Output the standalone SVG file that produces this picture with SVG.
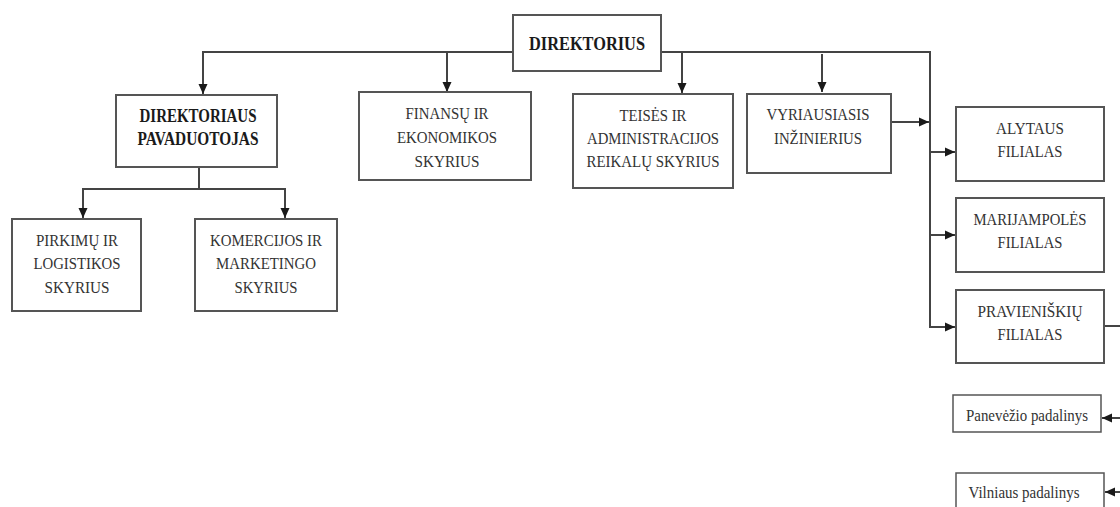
<svg xmlns="http://www.w3.org/2000/svg" width="1120" height="507" viewBox="0 0 1120 507">
<defs>
<marker id="ah" markerWidth="11" markerHeight="11" refX="10" refY="5" orient="auto" markerUnits="userSpaceOnUse">
<path d="M0,0.5 L10,5 L0,9.5 Z" fill="#1a1a1a"/>
</marker>
<style>
.box{fill:#fff;stroke:#555;stroke-width:2}
.ln{fill:none;stroke:#444;stroke-width:2}
.t{font-family:"Liberation Serif","Times New Roman",serif;font-size:17px;fill:#333;text-anchor:middle}
.b{font-weight:bold;fill:#1a1a1a;font-size:19px}
.s{font-size:17px}
</style>
</defs>
<rect width="1120" height="507" fill="#fff"/>
<g id="connectors">
<path class="ln" d="M513,52 H203 V94" marker-end="url(#ah)"/>
<path class="ln" d="M447,52 V92" marker-end="url(#ah)"/>
<path class="ln" d="M661,52 H930 V327 H955" marker-end="url(#ah)"/>
<path class="ln" d="M682,52 V93" marker-end="url(#ah)"/>
<path class="ln" d="M822,54 V92" marker-end="url(#ah)"/>
<path class="ln" d="M891,122 H929" marker-end="url(#ah)"/>
<path class="ln" d="M930,152 H955" marker-end="url(#ah)"/>
<path class="ln" d="M930,235 H955" marker-end="url(#ah)"/>
<path class="ln" d="M199,167 V189"/>
<path class="ln" d="M285,218 V189 H83 V218" marker-end="url(#ah)"/>
<path class="ln" d="M285,189 V218" marker-end="url(#ah)"/>
<path class="ln" d="M1104,326 H1120"/>
<path class="ln" d="M1120,418 H1102" marker-end="url(#ah)"/>
<path class="ln" d="M1120,492 H1105" marker-end="url(#ah)"/>
</g>
<g id="direktorius">
<rect class="box" x="513" y="15" width="148" height="56"/>
<text class="t b" x="587" y="50" textLength="116" lengthAdjust="spacingAndGlyphs">DIREKTORIUS</text>
</g>
<g id="pavaduotojas">
<rect class="box" x="116" y="95" width="161" height="72"/>
<text class="t b" x="198" y="122" textLength="117" lengthAdjust="spacingAndGlyphs">DIREKTORIAUS</text>
<text class="t b" x="198" y="145" textLength="121" lengthAdjust="spacingAndGlyphs">PAVADUOTOJAS</text>
</g>
<g id="finansu">
<rect class="box" x="359" y="92" width="172" height="88"/>
<text class="t" x="447" y="119" textLength="83" lengthAdjust="spacingAndGlyphs">FINANSŲ IR</text>
<text class="t" x="447" y="143" textLength="100" lengthAdjust="spacingAndGlyphs">EKONOMIKOS</text>
<text class="t" x="447" y="167" textLength="65" lengthAdjust="spacingAndGlyphs">SKYRIUS</text>
</g>
<g id="teises">
<rect class="box" x="573" y="94" width="160" height="94"/>
<text class="t" x="653" y="121" textLength="67" lengthAdjust="spacingAndGlyphs">TEISĖS IR</text>
<text class="t" x="653" y="144" textLength="132" lengthAdjust="spacingAndGlyphs">ADMINISTRACIJOS</text>
<text class="t" x="653" y="167" textLength="133" lengthAdjust="spacingAndGlyphs">REIKALŲ SKYRIUS</text>
</g>
<g id="inzinierius">
<rect class="box" x="747" y="94" width="144" height="79"/>
<text class="t" x="818" y="120" textLength="103" lengthAdjust="spacingAndGlyphs">VYRIAUSIASIS</text>
<text class="t" x="818" y="144" textLength="88" lengthAdjust="spacingAndGlyphs">INŽINIERIUS</text>
</g>
<g id="alytaus">
<rect class="box" x="956" y="107" width="148" height="74"/>
<text class="t" x="1030" y="134" textLength="68" lengthAdjust="spacingAndGlyphs">ALYTAUS</text>
<text class="t" x="1030" y="157" textLength="65" lengthAdjust="spacingAndGlyphs">FILIALAS</text>
</g>
<g id="marijampoles">
<rect class="box" x="956" y="198" width="148" height="74"/>
<text class="t" x="1030" y="225" textLength="113" lengthAdjust="spacingAndGlyphs">MARIJAMPOLĖS</text>
<text class="t" x="1030" y="248" textLength="65" lengthAdjust="spacingAndGlyphs">FILIALAS</text>
</g>
<g id="pravieniskiu">
<rect class="box" x="956" y="290" width="148" height="73"/>
<text class="t" x="1030" y="317" textLength="105" lengthAdjust="spacingAndGlyphs">PRAVIENIŠKIŲ</text>
<text class="t" x="1030" y="340" textLength="65" lengthAdjust="spacingAndGlyphs">FILIALAS</text>
</g>
<g id="pirkimu">
<rect class="box" x="12" y="219" width="129" height="92"/>
<text class="t" x="77" y="246" textLength="82" lengthAdjust="spacingAndGlyphs">PIRKIMŲ IR</text>
<text class="t" x="77" y="269" textLength="87" lengthAdjust="spacingAndGlyphs">LOGISTIKOS</text>
<text class="t" x="77" y="293" textLength="65" lengthAdjust="spacingAndGlyphs">SKYRIUS</text>
</g>
<g id="komercijos">
<rect class="box" x="195" y="219" width="142" height="92"/>
<text class="t" x="266" y="246" textLength="112" lengthAdjust="spacingAndGlyphs">KOMERCIJOS IR</text>
<text class="t" x="266" y="269" textLength="100" lengthAdjust="spacingAndGlyphs">MARKETINGO</text>
<text class="t" x="266" y="293" textLength="63" lengthAdjust="spacingAndGlyphs">SKYRIUS</text>
</g>
<g id="panevezio">
<rect class="box" x="953" y="395" width="148" height="37" style="stroke-width:1.5"/>
<text class="t s" x="1027" y="421" textLength="122" lengthAdjust="spacingAndGlyphs">Panevėžio padalinys</text>
</g>
<g id="vilniaus">
<rect class="box" x="956" y="473" width="148" height="40" style="stroke-width:1.5"/>
<text class="t s" x="1024" y="498" textLength="111" lengthAdjust="spacingAndGlyphs">Vilniaus padalinys</text>
</g>
</svg>
